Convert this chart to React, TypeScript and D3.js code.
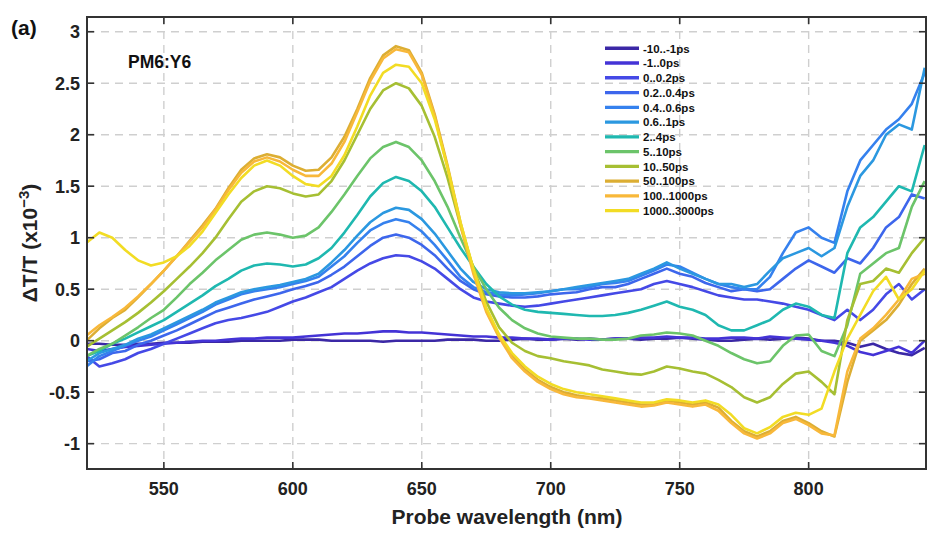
import React from "react";
import * as d3 from "d3";

const wavelengths = d3.range(520, 846, 5);

const seriesNames = [
  "-10..-1ps", "-1..0ps", "0..0.2ps", "0.2..0.4ps", "0.4..0.6ps", "0.6..1ps",
  "2..4ps", "5..10ps", "10..50ps", "50..100ps", "100..1000ps", "1000..3000ps",
];

const seriesColors = [
  "#3b28a6", "#4433d6", "#4549e6", "#3d66ec", "#3581ee", "#2b98e0",
  "#1fb8b0", "#6cc46a", "#a6bf33", "#dcae33", "#f8b83a", "#f2dc24",
];

const s1 = [
  -0.03, -0.03, -0.04, -0.04, -0.03, -0.03, -0.02, -0.02, -0.02, -0.01,
  -0.01, -0.01, 0, 0, 0, 0, 0.01, 0.01, 0.01, 0,
  0, 0, 0, -0.01, 0, 0, 0, 0, 0.01, 0.01,
  0.01, 0, 0, 0.01, 0.02, 0.01, 0.01, 0.02, 0.01, 0.02,
  0.01, 0.02, 0.02, 0.01, 0.02, 0.02, 0.03, 0.02, 0.01, 0,
  0, 0.01, 0.02, 0.01, 0.02, 0.03, 0.02, 0.0, 0.0, -0.02,
  -0.06, -0.03, -0.08, -0.12, -0.14, -0.07,
];
const s2 = [
  -0.08, -0.1, -0.08, -0.06, -0.05, -0.04, -0.03, -0.02, -0.01, 0,
  0, 0.01, 0.02, 0.02, 0.03, 0.03, 0.03, 0.04, 0.05, 0.06,
  0.07, 0.07, 0.08, 0.09, 0.09, 0.08, 0.08, 0.07, 0.06, 0.05,
  0.04, 0.04, 0.03, 0.03, 0.02, 0.02, 0.01, 0.02, 0.02, 0.01,
  0.01, 0.02, 0.02, 0.03, 0.03, 0.04, 0.03, 0.03, 0.02, 0.02,
  0.03, 0.03, 0.02, 0.04, 0.03, 0.02, 0.01, 0.0, -0.02, -0.05,
  -0.11, -0.14, -0.1, -0.06, -0.12, 0.0,
];
const s3 = [
  -0.15, -0.25, -0.22, -0.18, -0.12, -0.08, -0.03, 0.02, 0.07, 0.12,
  0.17, 0.2, 0.22, 0.25, 0.28, 0.33, 0.38, 0.42, 0.47, 0.52,
  0.6, 0.68, 0.75, 0.8, 0.83, 0.82, 0.77, 0.7, 0.6, 0.5,
  0.42, 0.38, 0.36, 0.34, 0.33, 0.34, 0.36, 0.38, 0.4, 0.42,
  0.44, 0.46, 0.48, 0.5, 0.55, 0.58, 0.55, 0.52, 0.48, 0.44,
  0.42, 0.4, 0.4, 0.38, 0.36, 0.33, 0.3, 0.25, 0.2, 0.3,
  0.2, 0.3, 0.45, 0.55, 0.4, 0.5,
];
const s4 = [
  -0.2, -0.18, -0.12, -0.1, -0.04, 0.0, 0.05, 0.1, 0.16, 0.22,
  0.28, 0.32, 0.36, 0.4, 0.43, 0.46, 0.5, 0.53, 0.57, 0.64,
  0.72, 0.82, 0.92, 1.0, 1.03, 1.0, 0.93, 0.83, 0.7, 0.58,
  0.5, 0.45, 0.43, 0.42, 0.42, 0.43, 0.45, 0.46, 0.47, 0.5,
  0.52, 0.52, 0.55, 0.6, 0.65, 0.7, 0.65, 0.62, 0.56, 0.52,
  0.48, 0.5, 0.48, 0.5, 0.6, 0.7, 0.78, 0.72, 0.66, 0.8,
  0.75, 0.9, 1.1, 1.2, 1.42, 1.38,
];
const s5 = [
  -0.25, -0.15, -0.1, -0.05, 0.0, 0.04, 0.1, 0.16, 0.22, 0.28,
  0.35, 0.4, 0.45, 0.48, 0.5, 0.52, 0.55, 0.58, 0.62, 0.72,
  0.82, 0.95, 1.07, 1.14, 1.18, 1.15, 1.06, 0.93, 0.78, 0.62,
  0.52, 0.47, 0.45, 0.44, 0.45, 0.46, 0.48, 0.5, 0.5, 0.52,
  0.55, 0.56, 0.58, 0.63, 0.68, 0.74, 0.72, 0.66, 0.6, 0.55,
  0.52, 0.5, 0.5, 0.62, 0.85, 1.05, 1.1, 1.0, 0.95, 1.45,
  1.75, 1.9, 2.05, 2.15, 2.3, 2.6,
];
const s6 = [
  -0.2, -0.12, -0.08, -0.04, 0.02, 0.06, 0.12, 0.18, 0.24, 0.3,
  0.37, 0.42, 0.47, 0.5, 0.52, 0.54, 0.57, 0.6, 0.65, 0.76,
  0.88, 1.02, 1.15, 1.24, 1.29, 1.27, 1.18, 1.04, 0.87, 0.7,
  0.57, 0.5, 0.47, 0.46, 0.46, 0.47, 0.48, 0.5, 0.52, 0.54,
  0.56, 0.58, 0.6, 0.65, 0.7, 0.76, 0.7, 0.65, 0.6, 0.55,
  0.55, 0.52, 0.55, 0.68, 0.8, 0.85, 0.9, 0.82, 0.9, 1.3,
  1.6, 1.75, 2.0, 2.1, 2.05, 2.65,
];
const s7 = [
  -0.15, -0.1, -0.03, 0.02, 0.08, 0.14, 0.2, 0.28, 0.36, 0.44,
  0.53, 0.6, 0.68, 0.73, 0.75, 0.74, 0.72, 0.74, 0.8, 0.9,
  1.05, 1.22, 1.4, 1.53, 1.59, 1.55, 1.45, 1.3, 1.1, 0.9,
  0.72, 0.55, 0.43, 0.35, 0.3, 0.28, 0.27, 0.26, 0.25, 0.24,
  0.24, 0.25, 0.27, 0.3, 0.34, 0.38, 0.33, 0.3, 0.25, 0.15,
  0.1, 0.1, 0.15, 0.2, 0.3, 0.36, 0.33, 0.25, 0.22, 0.85,
  1.1, 1.2, 1.35, 1.5, 1.45, 1.9,
];
const s8 = [
  -0.15, -0.08, -0.03, 0.05, 0.13, 0.22, 0.3, 0.42, 0.55, 0.66,
  0.78, 0.88, 0.98, 1.03, 1.05, 1.03, 1.0, 1.02, 1.1, 1.25,
  1.42, 1.6, 1.77, 1.88, 1.93, 1.88, 1.75, 1.55, 1.3, 1.0,
  0.72, 0.5, 0.32, 0.2, 0.12, 0.07, 0.04, 0.03, 0.02, 0.02,
  0.01, 0.01, 0.02, 0.05, 0.06, 0.08, 0.07, 0.05, 0.0, -0.05,
  -0.12, -0.18, -0.22, -0.2, -0.05, 0.05, 0.06, -0.1, -0.15, 0.15,
  0.65, 0.75, 0.85, 0.9, 1.3, 1.55,
];
const s9 = [
  -0.06, 0.02, 0.1, 0.18, 0.27, 0.37, 0.48, 0.6, 0.72, 0.85,
  1.0, 1.18, 1.35, 1.45, 1.5, 1.48, 1.43, 1.4, 1.42, 1.55,
  1.75, 2.0, 2.25, 2.43, 2.5, 2.45, 2.28, 1.98, 1.58, 1.12,
  0.7, 0.38, 0.13, -0.02, -0.1, -0.15, -0.17, -0.2, -0.22, -0.24,
  -0.28, -0.3, -0.32, -0.33, -0.3, -0.25, -0.27, -0.3, -0.32, -0.38,
  -0.45, -0.55, -0.6, -0.55, -0.42, -0.32, -0.3, -0.4, -0.52, 0.2,
  0.55, 0.58, 0.7, 0.66, 0.85, 1.0,
];
const s10 = [
  0.0, 0.12, 0.22, 0.3, 0.42, 0.55, 0.68, 0.82, 0.97, 1.12,
  1.28, 1.48, 1.66, 1.77, 1.81, 1.78, 1.7, 1.65, 1.66, 1.78,
  1.98, 2.25, 2.55, 2.77, 2.86, 2.82, 2.6, 2.2, 1.7, 1.15,
  0.68, 0.3, 0.05, -0.15, -0.28, -0.38, -0.45, -0.5, -0.53, -0.55,
  -0.56, -0.58, -0.6, -0.62, -0.62, -0.58, -0.6, -0.62, -0.6, -0.65,
  -0.78, -0.88, -0.93, -0.88, -0.78, -0.74, -0.8, -0.88, -0.93, -0.4,
  0.0, 0.1, 0.2, 0.35, 0.55, 0.7,
];
const s11 = [
  0.05, 0.15, 0.23, 0.32, 0.43, 0.55, 0.68, 0.82, 0.96, 1.1,
  1.27, 1.46, 1.63, 1.74, 1.78, 1.74, 1.66, 1.6, 1.6, 1.72,
  1.93, 2.22, 2.52, 2.74, 2.83, 2.8, 2.58, 2.18, 1.68, 1.12,
  0.65, 0.28, 0.03, -0.17, -0.3, -0.4, -0.47, -0.52, -0.55, -0.56,
  -0.58, -0.6, -0.62, -0.64, -0.63, -0.6, -0.62, -0.64, -0.62, -0.68,
  -0.8, -0.9, -0.95, -0.9, -0.8, -0.76, -0.82, -0.9, -0.92, -0.3,
  0.02, 0.12, 0.25, 0.4, 0.6, 0.65,
];
const s12 = [
  0.95, 1.05, 1.0, 0.88, 0.78, 0.73, 0.76, 0.82, 0.92, 1.06,
  1.24, 1.42, 1.58, 1.7, 1.75, 1.7, 1.6, 1.52, 1.5, 1.6,
  1.8, 2.08, 2.38, 2.6, 2.68, 2.66, 2.5, 2.15, 1.68, 1.15,
  0.7, 0.32, 0.06, -0.12, -0.25, -0.35, -0.42, -0.47, -0.5, -0.52,
  -0.54, -0.56, -0.58, -0.6, -0.6, -0.57, -0.58, -0.6, -0.58, -0.62,
  -0.72, -0.85, -0.9, -0.84, -0.74, -0.7, -0.72, -0.66, -0.3, 0.02,
  0.25, 0.48, 0.62, 0.4, 0.5, 0.68,
];

const seriesValues = [s1, s2, s3, s4, s5, s6, s7, s8, s9, s10, s11, s12];

const xTicks = [550, 600, 650, 700, 750, 800];
const yTicks = [-1, -0.5, 0, 0.5, 1, 1.5, 2, 2.5, 3];

const W = 927;
const H = 534;
const L = 87, T = 17, R = 926, B = 469;
const FONT = "'Liberation Sans', Arial, sans-serif";

export default function App() {
  const x = d3.scaleLinear().domain([520.2, 845.5]).range([L, R]);
  const y = d3.scaleLinear().domain([-1.246, 3.143]).range([B, T]);
  const line = d3
    .line<number>()
    .x((_, i) => x(wavelengths[i]))
    .y((d) => y(d));

  const legX1 = 605, legX2 = 639, legY0 = 48.3, legStep = 14.76;

  return (
    <svg
      width={W}
      height={H}
      style={{ position: "absolute", left: 0, top: 0, background: "#fff" }}
      fontFamily={FONT}
    >
      <defs>
        <clipPath id="plotclip">
          <rect x={L} y={T} width={R - L} height={B - T} />
        </clipPath>
      </defs>
      <rect x={0} y={0} width={W} height={H} fill="#fff" />
      <g stroke="#cfcfcf" strokeWidth={1.4} strokeDasharray="8,6">
        {xTicks.map((t) => (
          <line key={"gx" + t} x1={x(t)} x2={x(t)} y1={T} y2={B} />
        ))}
        {yTicks.map((t) => (
          <line key={"gy" + t} x1={L} x2={R} y1={y(t)} y2={y(t)} />
        ))}
      </g>
      <g clipPath="url(#plotclip)" fill="none" strokeWidth={2.6} strokeLinejoin="round">
        {seriesValues.map((vals, i) => (
          <path key={seriesNames[i]} d={line(vals) || ""} stroke={seriesColors[i]} />
        ))}
      </g>
      <g stroke="#333" strokeWidth={1.6}>
        {xTicks.map((t) => (
          <g key={"tx" + t}>
            <line x1={x(t)} x2={x(t)} y1={B} y2={B - 7} />
            <line x1={x(t)} x2={x(t)} y1={T} y2={T + 7} />
          </g>
        ))}
        {yTicks.map((t) => (
          <g key={"ty" + t}>
            <line x1={L} x2={L + 7} y1={y(t)} y2={y(t)} />
            <line x1={R} x2={R - 7} y1={y(t)} y2={y(t)} />
          </g>
        ))}
      </g>
      <rect x={L} y={T} width={R - L} height={B - T} fill="none" stroke="#333" strokeWidth={2} />
      <g fontSize={18} fontWeight="bold" fill="#222">
        {xTicks.map((t) => (
          <text key={"lx" + t} x={x(t)} y={495} textAnchor="middle">
            {t}
          </text>
        ))}
        {yTicks.map((t) => (
          <text key={"ly" + t} x={80} y={y(t) + 6.5} textAnchor="end">
            {String(t)}
          </text>
        ))}
      </g>
      <text x={507} y={524} textAnchor="middle" fontSize={21} fontWeight="bold" fill="#222">
        Probe wavelength (nm)
      </text>
      <text
        transform="translate(37,243) rotate(-90)"
        textAnchor="middle"
        fontSize={21}
        fontWeight="bold"
        fill="#222"
      >
        ΔT/T (x10<tspan dy={-8} fontSize={15}>−3</tspan>
        <tspan dy={8}>)</tspan>
      </text>
      <text x={11} y={35} fontSize={21} fontWeight="bold" fill="#111">
        (a)
      </text>
      <text x={128} y={68} fontSize={17.5} fontWeight="bold" fill="#111">
        PM6:Y6
      </text>
      <g>
        {seriesNames.map((n, i) => {
          const yy = legY0 + i * legStep;
          return (
            <g key={"leg" + n}>
              <line x1={legX1} x2={legX2} y1={yy} y2={yy} stroke={seriesColors[i]} strokeWidth={3.4} />
              <text x={643} y={yy + 4.2} fontSize={11.5} fontWeight="bold" fill="#111">
                {n}
              </text>
            </g>
          );
        })}
      </g>
    </svg>
  );
}
